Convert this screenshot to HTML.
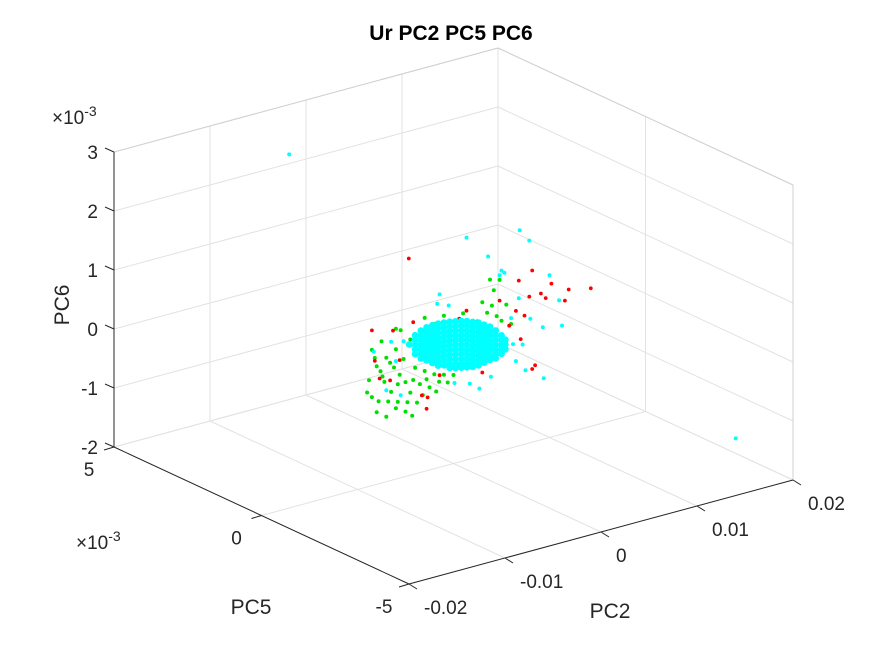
<!DOCTYPE html>
<html><head><meta charset="utf-8">
<style>
html,body{margin:0;padding:0;background:#fff;}
svg{display:block;font-family:"Liberation Sans",Arial,sans-serif;}
</style></head>
<body>
<svg id="chart" width="875" height="656" viewBox="0 0 875 656">
  <rect x="0" y="0" width="875" height="656" fill="#fff"/>
  <g id="grid"></g>
  <g id="axes"></g>
  <g id="points"></g>
  <text x="451" y="40" text-anchor="middle" font-size="21" font-weight="bold" fill="#000">Ur PC2 PC5 PC6</text>
  <text x="52" y="124" font-size="19" fill="#262626">×10<tspan dy="-8" font-size="14">-3</tspan></text>
  <text x="76" y="549" font-size="19" fill="#262626">×10<tspan dy="-8" font-size="14">-3</tspan></text>
  <text transform="translate(69,305) rotate(-90)" text-anchor="middle" font-size="21" fill="#262626">PC6</text>
  <text x="251" y="614" text-anchor="middle" font-size="21" fill="#262626">PC5</text>
  <text x="610" y="618" text-anchor="middle" font-size="21" fill="#262626">PC2</text>
</svg>
<script>
// Tick values (PC2 in units of 1e-3, PC5/PC6 in units of 1e-3)
const pc2Ticks = [-20, -10, 0, 10, 20];
const pc2TickLabels = ["-0.02", "-0.01", "0", "0.01", "0.02"];
const pc5Ticks = [5, 0, -5];
const pc5TickLabels = ["5", "0", "-5"];
const pc6Ticks = [3, 2, 1, 0, -1, -2];
const pc6TickLabels = ["3", "2", "1", "0", "-1", "-2"];

// Data points: [PC2 (x1e-3), PC5 (x1e-3), PC6 (x1e-3)]
const greenPoints = [
[-8.5,0,0.3],[-8,0,0],[-8.8,0,-0.2],[-7.5,0,0.4],[-7,0,0.1],[-7.2,0,-0.3],[-6.5,0,-0.5],[-6,0,0.2],
[-6.2,0,-0.1],[-5.5,0,0.5],[-5,0,-0.4],[-5.2,0,0],[-4.5,0,0.3],[-4.5,0,-0.6],[-4,0,-0.2],[-3.5,0,0.1],
[-3.5,0,-0.5],[-3,0,-0.3],[-2.5,0,-0.6],[-2,0,-0.4],[-1.5,0,-0.55],[-1,0,-0.45],[0,0,-0.5],[0.5,0,-0.35],
[1.5,0,-0.4],[-6,0,-0.8],[-5,0,-0.9],[-4.3,0,-1.0],[-3.8,0,-0.8],[-7.8,0,-0.6],[-8.5,0,-0.5],[-6,0,0.55],
[-3,0,0.6],[3,0,0.6],[3.5,0,0.4],[4,0,0.5],[4.5,0,0.3],[5,0,0.2],[2.5,0,0.3],[6,0,0.1],[4.2,0,0.75],
[5.5,0,0.45],[1,0,0.5],[-1,0,0.55],[-2,0,0.45],[-8,0,-0.78],[-7,0,-0.9],[-5.8,0,-0.7],[-9,0,-0.4],
[-7.6,0,-0.1],[-6.8,0,-0.65],[-5.6,0,-0.25],[-4.8,0,-0.75],[-3.2,0,-0.7],[-2.2,0,-0.2],[4.8,0,0.9],[3.8,0,0.95],
[-8.2,0,0.15],[-7.4,0,-0.2],[-6.6,0,0.0],[-5.8,0,-0.4],[-4.2,0,-0.4],[-2.8,0,-0.45],[-1.8,0,-0.7],[-0.6,0,-0.6]
];
const redPoints = [
[-4.66,0,1.68],[9.1,0,0.48],[9.6,0,0.38],[11.6,0,0.25],[14.3,0,0.34],[7.9,0,0.48],[6.8,0,0.8],[8.2,0,0.91],
[8.5,0,-0.71],[8.2,0,-0.76],[-3.3,0,-0.7],[-2.7,0,-0.76],[-7.7,0,-0.22],[-8.5,0,0.63],[-6.3,0,0.53],[-4.2,0,0.58],
[0.6,0,0.43],[1.35,0,0.53],[4.8,0,0.55],[5.8,0,0.08],[7.4,0,0.18],[-6.6,0,-0.3],[-5.6,0,0],[-1.45,0,-0.44],
[3,0,-0.59],[2.2,0,-0.1],[6.5,0,0.3],[7,0,-0.2],[-2.8,0,-0.95],[-8.2,0,0.1],[10.2,0,0.6],[12,0,0.42]
];
const cyanCorePoints = [
[-4.6,0,0.22],
[-4.0,0,0.35],[-4.0,0,0.27],[-4.0,0,0.19],[-4.0,0,0.11],[-4.0,0,0.03],
[-3.4,0,0.40],[-3.4,0,0.32],[-3.4,0,0.24],[-3.4,0,0.16],[-3.4,0,0.08],[-3.4,0,0.0],[-3.4,0,-0.07],
[-2.8,0,0.43],[-2.8,0,0.35],[-2.8,0,0.27],[-2.8,0,0.19],[-2.8,0,0.11],[-2.8,0,0.03],[-2.8,0,-0.05],[-2.8,0,-0.13],
[-2.2,0,0.44],[-2.2,0,0.36],[-2.2,0,0.28],[-2.2,0,0.2],[-2.2,0,0.12],[-2.2,0,0.04],[-2.2,0,-0.04],[-2.2,0,-0.12],[-2.2,0,-0.2],
[-1.6,0,0.44],[-1.6,0,0.36],[-1.6,0,0.28],[-1.6,0,0.2],[-1.6,0,0.12],[-1.6,0,0.04],[-1.6,0,-0.04],[-1.6,0,-0.12],[-1.6,0,-0.2],[-1.6,0,-0.27],
[-1.0,0,0.43],[-1.0,0,0.35],[-1.0,0,0.27],[-1.0,0,0.19],[-1.0,0,0.11],[-1.0,0,0.03],[-1.0,0,-0.05],[-1.0,0,-0.13],[-1.0,0,-0.21],[-1.0,0,-0.29],
[-0.4,0,0.42],[-0.4,0,0.34],[-0.4,0,0.26],[-0.4,0,0.18],[-0.4,0,0.1],[-0.4,0,0.02],[-0.4,0,-0.06],[-0.4,0,-0.14],[-0.4,0,-0.22],[-0.4,0,-0.3],[-0.4,0,-0.36],
[0.2,0,0.4],[0.2,0,0.32],[0.2,0,0.24],[0.2,0,0.16],[0.2,0,0.08],[0.2,0,0],[0.2,0,-0.08],[0.2,0,-0.16],[0.2,0,-0.24],[0.2,0,-0.32],[0.2,0,-0.39],
[0.8,0,0.38],[0.8,0,0.3],[0.8,0,0.22],[0.8,0,0.14],[0.8,0,0.06],[0.8,0,-0.02],[0.8,0,-0.1],[0.8,0,-0.18],[0.8,0,-0.26],[0.8,0,-0.34],[0.8,0,-0.41],
[1.4,0,0.35],[1.4,0,0.27],[1.4,0,0.19],[1.4,0,0.11],[1.4,0,0.03],[1.4,0,-0.05],[1.4,0,-0.13],[1.4,0,-0.21],[1.4,0,-0.29],[1.4,0,-0.37],[1.4,0,-0.43],
[2.0,0,0.31],[2.0,0,0.23],[2.0,0,0.15],[2.0,0,0.07],[2.0,0,-0.01],[2.0,0,-0.09],[2.0,0,-0.17],[2.0,0,-0.25],[2.0,0,-0.33],[2.0,0,-0.41],[2.0,0,-0.45],
[2.6,0,0.27],[2.6,0,0.19],[2.6,0,0.11],[2.6,0,0.03],[2.6,0,-0.05],[2.6,0,-0.13],[2.6,0,-0.21],[2.6,0,-0.29],[2.6,0,-0.37],[2.6,0,-0.45],
[3.2,0,0.21],[3.2,0,0.13],[3.2,0,0.05],[3.2,0,-0.03],[3.2,0,-0.11],[3.2,0,-0.19],[3.2,0,-0.27],[3.2,0,-0.35],[3.2,0,-0.43],
[3.8,0,0.15],[3.8,0,0.07],[3.8,0,-0.01],[3.8,0,-0.09],[3.8,0,-0.17],[3.8,0,-0.25],[3.8,0,-0.33],[3.8,0,-0.41],
[4.4,0,0.06],[4.4,0,-0.02],[4.4,0,-0.1],[4.4,0,-0.18],[4.4,0,-0.26],[4.4,0,-0.34],[4.4,0,-0.41],
[5.0,0,-0.05],[5.0,0,-0.13],[5.0,0,-0.21],[5.0,0,-0.29],[5.0,0,-0.36],
[5.4,0,-0.14],[5.4,0,-0.22],[5.4,0,-0.3]
];
const cyanOutlierPoints = [
[-7.9,3,2.89],[17.1,-4,-1.4],[1.35,0,1.77],[6.9,0,1.65],[7.9,0,1.43],[3.6,0,1.35],[5,0,1.05],[5.3,0,1.0],[4.8,0,0.98],
[10,0,0.75],[11,0,0.28],[11.3,0,-0.16],[9.3,0,-0.1],[9.4,0,-0.97],[-1.45,0,0.93],[-1.7,0,0.78],[-8.3,0,0.26],
[1.7,0,-0.72],[2.7,0,-0.85],[0.1,0,-0.64],[6.5,0,-0.55],[7.2,0,-0.3],[8,0,0.1],[6.8,0,0.5],[-6.5,0,0.35],
[-7,0,-0.45],[-5.5,0,-0.6],[-0.5,0,0.7],[-6,0,0.0],[7.5,0,-0.75],[3.9,0,-0.7],[6,0,0.2],[6.2,0,-0.25],[-5.2,0,0.3]
];

const NS = 'http://www.w3.org/2000/svg';
const A = [114, 447], B = [409, 584], C = [793, 480], ZH = 295;
function proj(pc2, pc5, pc6) {
  const u = (pc2 + 20) / 40, v = (5 - pc5) / 10, w = (pc6 + 2) / 5;
  return [A[0] + u * (C[0] - B[0]) + v * (B[0] - A[0]),
          A[1] + u * (C[1] - B[1]) + v * (B[1] - A[1]) - w * ZH];
}
function line(g, p, q, color, name, width) {
  const l = document.createElementNS(NS, 'line');
  l.setAttribute('x1', p[0]); l.setAttribute('y1', p[1]);
  l.setAttribute('x2', q[0]); l.setAttribute('y2', q[1]);
  l.setAttribute('stroke', color); l.setAttribute('stroke-width', width || 1);
  
  
  g.appendChild(l);
}
function text(g, x, y, s, anchor, name) {
  const t = document.createElementNS(NS, 'text');
  t.setAttribute('x', x); t.setAttribute('y', y);
  t.setAttribute('font-size', '19'); t.setAttribute('fill', '#262626');
  t.setAttribute('text-anchor', anchor);
  t.textContent = s;
  
  
  g.appendChild(t);
}
const grid = document.getElementById('grid');
const axes = document.getElementById('axes');
const gc = '#e2e2e2';
pc2Ticks.forEach(t => line(grid, proj(t, 5, -2), proj(t, -5, -2), gc, 'floor-grid-pc2'));
pc5Ticks.forEach(t => line(grid, proj(-20, t, -2), proj(20, t, -2), gc, 'floor-grid-pc5'));
pc2Ticks.forEach(t => line(grid, proj(t, 5, -2), proj(t, 5, 3), gc, 'back-wall-grid-vertical'));
pc6Ticks.forEach(t => line(grid, proj(-20, 5, t), proj(20, 5, t), gc, 'back-wall-grid-horizontal'));
pc5Ticks.forEach(t => line(grid, proj(20, t, -2), proj(20, t, 3), gc, 'side-wall-grid-vertical'));
pc6Ticks.forEach(t => line(grid, proj(20, 5, t), proj(20, -5, t), gc, 'side-wall-grid-horizontal'));
line(grid, proj(-20, 5, 3), proj(20, 5, 3), '#d0d0d0', 'box-top-back');
line(grid, proj(20, 5, 3), proj(20, -5, 3), '#d0d0d0', 'box-top-side');
line(grid, proj(20, -5, -2), proj(20, -5, 3), '#d0d0d0', 'box-right-vertical');
line(axes, proj(-20, 5, -2), proj(-20, 5, 3), '#262626', 'z-axis-line');
line(axes, proj(-20, 5, -2), proj(-20, -5, -2), '#262626', 'pc5-axis-line');
line(axes, proj(-20, -5, -2), proj(20, -5, -2), '#262626', 'pc2-axis-line');
pc6Ticks.forEach((t, i) => {
  const p = proj(-20, 5, t);
  line(axes, p, [p[0] - 9, p[1] - 4], '#262626', 'z-tick');
  text(axes, p[0] - 16, p[1] + 7, pc6TickLabels[i], 'end', 'z-tick-label');
});
pc5Ticks.forEach((t, i) => {
  const p = proj(-20, t, -2);
  line(axes, p, [p[0] - 10, p[1] + 3], '#262626', 'pc5-tick');
  text(axes, p[0] - 25, p[1] + 29, pc5TickLabels[i], 'middle', 'pc5-tick-label');
});
pc2Ticks.forEach((t, i) => {
  const p = proj(t, -5, -2);
  line(axes, p, [p[0] + 8, p[1] + 5], '#262626', 'pc2-tick');
  text(axes, p[0] + 15, p[1] + 30, pc2TickLabels[i], 'start', 'pc2-tick-label');
});
const pg = document.getElementById('points');
function drawSeries(pts, color, r, name) {
  pts.forEach(d => {
    const p = proj(d[0], d[1], d[2]);
    const c = document.createElementNS(NS, 'circle');
    c.setAttribute('cx', p[0].toFixed(1)); c.setAttribute('cy', p[1].toFixed(1));
    c.setAttribute('r', r); c.setAttribute('fill', color);
    
    
    pg.appendChild(c);
  });
}
drawSeries(greenPoints, '#00e000', 2, 'green-point');
drawSeries(redPoints, '#ff0000', 1.9, 'red-point');
drawSeries(cyanOutlierPoints, '#00ffff', 2, 'cyan-point');
drawSeries(cyanCorePoints, '#00ffff', 3.4, 'cyan-point');
</script>
</body></html>
